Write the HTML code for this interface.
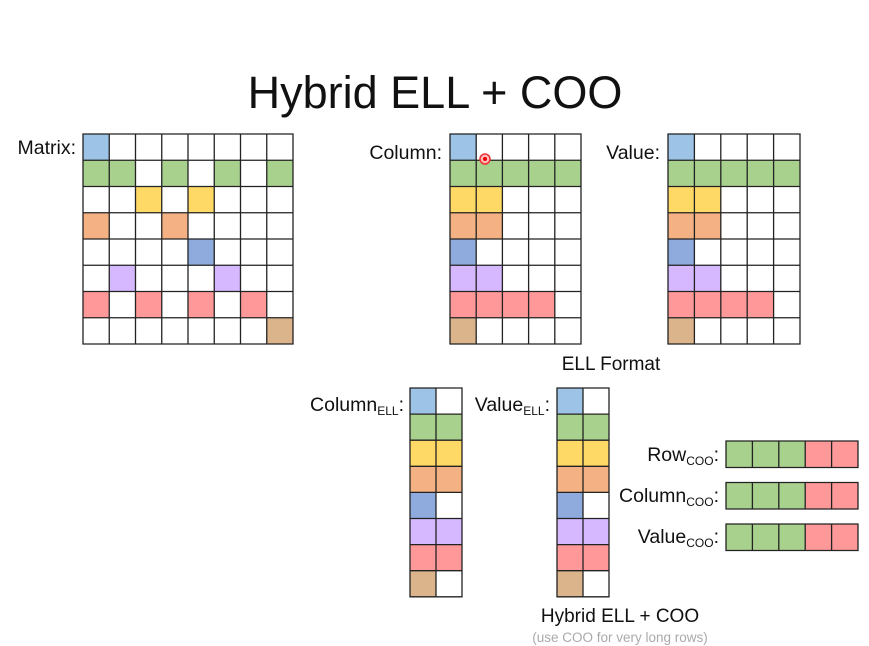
<!DOCTYPE html>
<html><head><meta charset="utf-8"><style>
html,body{margin:0;padding:0;background:#fff;}
svg{display:block;}
text{font-family:"Liberation Sans",sans-serif;fill:#111;}
.g{fill:none;stroke:#222;stroke-width:1.3;vector-effect:non-scaling-stroke;}
.B{fill:#9dc3e6}.G{fill:#a9d18e}.Y{fill:#ffd966}.O{fill:#f4b183}.D{fill:#8faadc}.P{fill:#d5b8ff}.R{fill:#ff9999}.T{fill:#dcb48c}
</style></head><body>
<svg width="869" height="646" viewBox="0 0 869 646" xmlns="http://www.w3.org/2000/svg">
<rect width="869" height="646" fill="#fff"/>
<text x="435" y="108" font-size="45" text-anchor="middle">Hybrid ELL + COO</text>

<text x="76" y="154" font-size="19.5" text-anchor="end">Matrix:</text>
<g transform="translate(83,134) scale(26.25)">
<rect class="B" x="0" y="0" width="1" height="1"/>
<rect class="G" x="0" y="1" width="2" height="1"/><rect class="G" x="3" y="1" width="1" height="1"/><rect class="G" x="5" y="1" width="1" height="1"/><rect class="G" x="7" y="1" width="1" height="1"/>
<rect class="Y" x="2" y="2" width="1" height="1"/><rect class="Y" x="4" y="2" width="1" height="1"/>
<rect class="O" x="0" y="3" width="1" height="1"/><rect class="O" x="3" y="3" width="1" height="1"/>
<rect class="D" x="4" y="4" width="1" height="1"/>
<rect class="P" x="1" y="5" width="1" height="1"/><rect class="P" x="5" y="5" width="1" height="1"/>
<rect class="R" x="0" y="6" width="1" height="1"/><rect class="R" x="2" y="6" width="1" height="1"/><rect class="R" x="4" y="6" width="1" height="1"/><rect class="R" x="6" y="6" width="1" height="1"/>
<rect class="T" x="7" y="7" width="1" height="1"/>
<path class="g" d="M0 0H8V8H0Z M1 0V8M2 0V8M3 0V8M4 0V8M5 0V8M6 0V8M7 0V8 M0 1H8M0 2H8M0 3H8M0 4H8M0 5H8M0 6H8M0 7H8"/>
</g>

<text x="442" y="159" font-size="19.5" text-anchor="end">Column:</text>
<g transform="translate(450,134) scale(26.2,26.25)">
<rect class="B" x="0" y="0" width="1" height="1"/>
<rect class="G" x="0" y="1" width="5" height="1"/>
<rect class="Y" x="0" y="2" width="2" height="1"/>
<rect class="O" x="0" y="3" width="2" height="1"/>
<rect class="D" x="0" y="4" width="1" height="1"/>
<rect class="P" x="0" y="5" width="2" height="1"/>
<rect class="R" x="0" y="6" width="4" height="1"/>
<rect class="T" x="0" y="7" width="1" height="1"/>
<path class="g" d="M0 0H5V8H0Z M1 0V8M2 0V8M3 0V8M4 0V8 M0 1H5M0 2H5M0 3H5M0 4H5M0 5H5M0 6H5M0 7H5"/>
</g>
<circle cx="485" cy="159" r="5" fill="#fbb" stroke="#e33" stroke-width="1.5"/>
<circle cx="485" cy="159" r="2" fill="#e00"/>

<text x="660" y="159" font-size="19.5" text-anchor="end">Value:</text>
<g transform="translate(668,134) scale(26.4,26.25)">
<rect class="B" x="0" y="0" width="1" height="1"/>
<rect class="G" x="0" y="1" width="5" height="1"/>
<rect class="Y" x="0" y="2" width="2" height="1"/>
<rect class="O" x="0" y="3" width="2" height="1"/>
<rect class="D" x="0" y="4" width="1" height="1"/>
<rect class="P" x="0" y="5" width="2" height="1"/>
<rect class="R" x="0" y="6" width="4" height="1"/>
<rect class="T" x="0" y="7" width="1" height="1"/>
<path class="g" d="M0 0H5V8H0Z M1 0V8M2 0V8M3 0V8M4 0V8 M0 1H5M0 2H5M0 3H5M0 4H5M0 5H5M0 6H5M0 7H5"/>
</g>
<text x="611" y="370" font-size="19" text-anchor="middle">ELL Format</text>

<text x="404" y="411" font-size="19.5" text-anchor="end">Column<tspan font-size="12" dy="4">ELL</tspan><tspan dy="-4">:</tspan></text>
<g transform="translate(410,388) scale(26,26.1)">
<rect class="B" x="0" y="0" width="1" height="1"/>
<rect class="G" x="0" y="1" width="2" height="1"/>
<rect class="Y" x="0" y="2" width="2" height="1"/>
<rect class="O" x="0" y="3" width="2" height="1"/>
<rect class="D" x="0" y="4" width="1" height="1"/>
<rect class="P" x="0" y="5" width="2" height="1"/>
<rect class="R" x="0" y="6" width="2" height="1"/>
<rect class="T" x="0" y="7" width="1" height="1"/>
<path class="g" d="M0 0H2V8H0Z M1 0V8 M0 1H2M0 2H2M0 3H2M0 4H2M0 5H2M0 6H2M0 7H2"/>
</g>
<text x="550" y="411" font-size="19.5" text-anchor="end">Value<tspan font-size="12" dy="4">ELL</tspan><tspan dy="-4">:</tspan></text>
<g transform="translate(557,388) scale(26,26.1)">
<rect class="B" x="0" y="0" width="1" height="1"/>
<rect class="G" x="0" y="1" width="2" height="1"/>
<rect class="Y" x="0" y="2" width="2" height="1"/>
<rect class="O" x="0" y="3" width="2" height="1"/>
<rect class="D" x="0" y="4" width="1" height="1"/>
<rect class="P" x="0" y="5" width="2" height="1"/>
<rect class="R" x="0" y="6" width="2" height="1"/>
<rect class="T" x="0" y="7" width="1" height="1"/>
<path class="g" d="M0 0H2V8H0Z M1 0V8 M0 1H2M0 2H2M0 3H2M0 4H2M0 5H2M0 6H2M0 7H2"/>
</g>

<text x="719" y="461" font-size="19.5" text-anchor="end">Row<tspan font-size="12" dy="4">COO</tspan><tspan dy="-4">:</tspan></text>
<g transform="translate(726,441) scale(26.4,26.5)">
<rect class="G" x="0" y="0" width="3" height="1"/><rect class="R" x="3" y="0" width="2" height="1"/>
<path class="g" d="M0 0H5V1H0Z M1 0V1M2 0V1M3 0V1M4 0V1"/>
</g>
<text x="719" y="502" font-size="19.5" text-anchor="end">Column<tspan font-size="12" dy="4">COO</tspan><tspan dy="-4">:</tspan></text>
<g transform="translate(726,482.5) scale(26.4,26.5)">
<rect class="G" x="0" y="0" width="3" height="1"/><rect class="R" x="3" y="0" width="2" height="1"/>
<path class="g" d="M0 0H5V1H0Z M1 0V1M2 0V1M3 0V1M4 0V1"/>
</g>
<text x="719" y="543" font-size="19.5" text-anchor="end">Value<tspan font-size="12" dy="4">COO</tspan><tspan dy="-4">:</tspan></text>
<g transform="translate(726,524) scale(26.4,26.5)">
<rect class="G" x="0" y="0" width="3" height="1"/><rect class="R" x="3" y="0" width="2" height="1"/>
<path class="g" d="M0 0H5V1H0Z M1 0V1M2 0V1M3 0V1M4 0V1"/>
</g>

<text x="620" y="622" font-size="19" text-anchor="middle">Hybrid ELL + COO</text>
<text x="620" y="642" font-size="13.5" text-anchor="middle" style="fill:#aaa">(use COO for very long rows)</text>
</svg>
</body></html>
